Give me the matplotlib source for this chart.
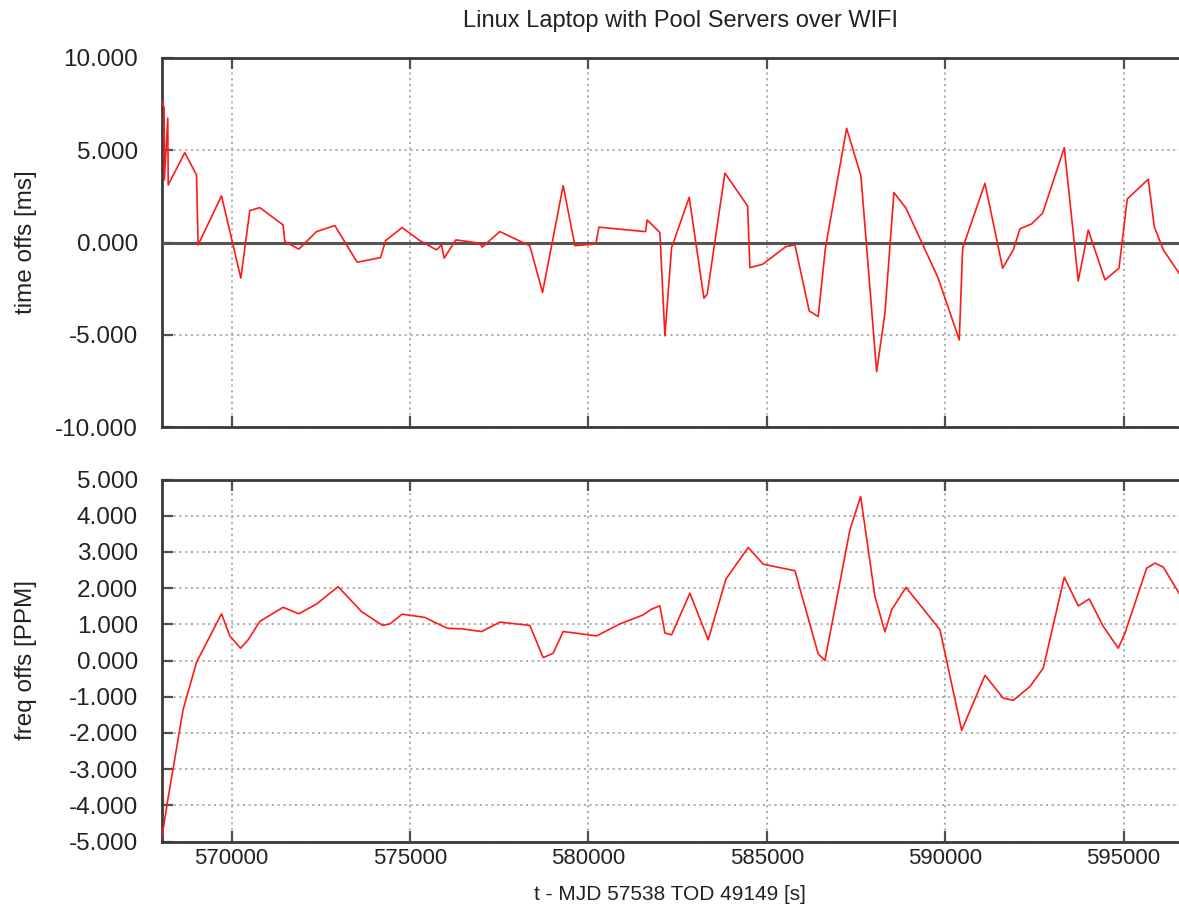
import matplotlib
matplotlib.use("Agg")
import matplotlib.pyplot as plt
from matplotlib.ticker import FormatStrFormatter, MultipleLocator

plt.rcParams["font.family"] = ["Liberation Sans", "DejaVu Sans"]

# offset samples: time [s], offset [ms]
t_offs = [568038, 568111, 568117, 568214, 568226, 568691, 569019, 569064,
          569720, 570261, 570513, 570793, 571446, 571494, 571886, 572383,
          572896, 573521, 574176, 574317, 574782, 575278, 575746, 575886,
          575959, 576287, 576960, 577024, 577520, 578361, 578717, 579295,
          579623, 580211, 580295, 581604, 581649, 582005, 582145, 582333,
          582827, 583239, 583331, 583827, 584463, 584528, 584884, 585537,
          585789, 586190, 586442, 586644, 587238, 587639, 588079, 588312,
          588564, 588901, 589806, 590395, 590490, 591115, 591611, 591908,
          592096, 592424, 592732, 593338, 593730, 594010, 594479, 594871,
          595104, 595692, 595860, 596113, 596553]
offs_ms = [7.73, 7.28, 3.39, 6.74, 3.12, 4.87, 3.66, -0.13,
           2.53, -1.93, 1.73, 1.89, 0.95, 0.05, -0.36, 0.59,
           0.92, -1.07, -0.82, 0.10, 0.81, 0.10, -0.40, -0.13,
           -0.85, 0.14, -0.04, -0.25, 0.59, -0.18, -2.71, 3.08,
           -0.17, -0.08, 0.83, 0.59, 1.22, 0.54, -5.06, -0.28,
           2.45, -3.02, -2.80, 3.76, 1.98, -1.36, -1.18, -0.22,
           -0.13, -3.71, -4.01, -0.30, 6.19, 3.61, -7.00, -3.83,
           2.71, 1.86, -1.94, -5.28, -0.31, 3.21, -1.39, -0.40,
           0.74, 1.01, 1.59, 5.14, -2.08, 0.68, -2.03, -1.39,
           2.36, 3.43, 0.86, -0.40, -1.66]

# frequency samples: time [s], freq offset [PPM]
t_freq = [568038, 568223, 568643, 569019, 569720, 569952, 570252, 570465,
          570793, 571446, 571886, 572383, 572988, 573644, 574233, 574437,
          574782, 575418, 575746, 576054, 576492, 577008, 577520, 578361,
          578734, 579014, 579295, 580231, 580884, 581537, 581773, 582005,
          582145, 582333, 582846, 583359, 583855, 584480, 584901, 585789,
          586442, 586630, 587331, 587631, 588032, 588312, 588500, 588901,
          589854, 590462, 591115, 591628, 591908, 592376, 592749, 593338,
          593730, 594038, 594431, 594851, 595039, 595647, 595880, 596113,
          596553]
freq_ppm = [-4.95, -3.80, -1.36, -0.05, 1.29, 0.68, 0.34, 0.57,
            1.08, 1.47, 1.29, 1.56, 2.04, 1.35, 0.97, 1.01,
            1.28, 1.19, 1.03, 0.89, 0.87, 0.80, 1.06, 0.97,
            0.08, 0.20, 0.80, 0.68, 1.01, 1.26, 1.42, 1.51,
            0.76, 0.71, 1.86, 0.57, 2.25, 3.12, 2.66, 2.48,
            0.18, 0.00, 3.61, 4.53, 1.77, 0.79, 1.40, 2.02,
            0.85, -1.93, -0.41, -1.04, -1.10, -0.72, -0.21, 2.30,
            1.51, 1.70, 0.94, 0.34, 0.76, 2.55, 2.69, 2.58,
            1.86]

x_ticks = [570000, 575000, 580000, 585000, 590000, 595000]
x_range = (568038, 596553)

W, H = 1179, 915
fig = plt.figure(figsize=(W / 100, H / 100), dpi=100)
fig.patch.set_facecolor("white")


def px_axes(left, top, right, bottom):
    return fig.add_axes([left / W, 1 - bottom / H, (right - left) / W, (bottom - top) / H])


ax1 = px_axes(161.5, 58, 1179, 427)
ax2 = px_axes(161.5, 479.5, 1179, 841.5)

BORDER = "#3a3a3a"
GRID = "#a8a8a8"
TEXT = "#222222"

for ax in (ax1, ax2):
    ax.set_xlim(*x_range)
    ax.set_xticks(x_ticks)
    ax.grid(True, color=GRID, lw=1.3, linestyle=(0, (1.2, 2.0)))
    ax.set_axisbelow(True)
    for side in ("left", "top", "bottom"):
        ax.spines[side].set_color(BORDER)
        ax.spines[side].set_linewidth(2.0)
    ax.spines["right"].set_visible(False)
    ax.tick_params(direction="in", length=8, width=1.6, color="#505050",
                   top=True, right=False, labelcolor=TEXT)
    ax.tick_params(axis="y", labelsize=17.5, pad=17)
    ax.tick_params(axis="x", labelsize=16, pad=5)
    ax.yaxis.set_major_formatter(FormatStrFormatter("%.3f"))

# time offset panel
ax1.plot(t_offs, offs_ms, color="#ff1a1a", lw=1.2, zorder=4)
ax1.axhline(0, color="#555555", lw=2.2, zorder=3)
ax1.set_ylim(-10, 10)
ax1.yaxis.set_major_locator(MultipleLocator(5))
ax1.tick_params(labelbottom=False)
ax1.set_ylabel("time offs [ms]", fontsize=17.5, color=TEXT)
ax1.yaxis.set_label_coords(-0.1224, 0.5)
ax1.set_title("Linux Laptop with Pool Servers over WIFI", fontsize=17,
              color=TEXT, pad=22, x=0.5096)

# frequency panel
ax2.plot(t_freq, freq_ppm, color="#ff1a1a", lw=1.2, zorder=4)
ax2.set_ylim(-5, 5)
ax2.yaxis.set_major_locator(MultipleLocator(1))
ax2.set_ylabel("freq offs [PPM]", fontsize=17.5, color=TEXT)
ax2.yaxis.set_label_coords(-0.1224, 0.5)
ax2.set_xlabel("t - MJD 57538 TOD 49149 [s]", fontsize=15, color=TEXT,
               labelpad=11)

fig.savefig("out.png", dpi=100, facecolor="white")
